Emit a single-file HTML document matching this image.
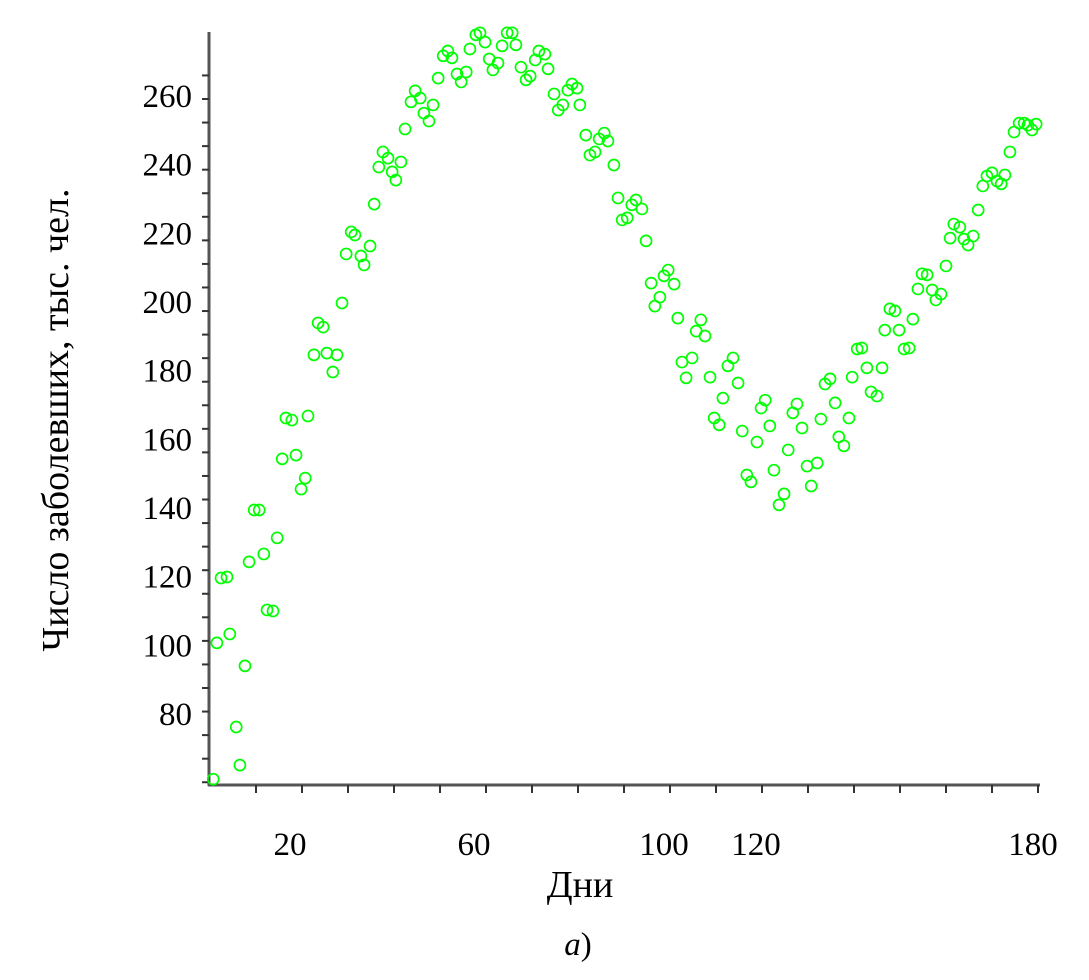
<!DOCTYPE html>
<html><head><meta charset="utf-8"><style>
body{margin:0;background:#fff;width:1089px;height:975px;overflow:hidden}
svg text{font-family:"Liberation Serif",serif;fill:#000}
</style></head><body>
<svg id="chart" width="1089" height="975" xmlns="http://www.w3.org/2000/svg">
<g id="axes"></g>
<g id="points"></g>
<text x="580" y="897" font-size="38" text-anchor="middle">Дни</text>
<text transform="translate(68,420) rotate(-90)" font-size="38" text-anchor="middle">Число заболевших, тыс. чел.</text>
<text x="578" y="955" font-size="33" text-anchor="middle"><tspan font-style="italic">а</tspan>)</text>
</svg>
<script>
const days=[0.7,1.5,2.4,3.7,4.3,5.7,6.5,7.6,8.5,9.6,10.7,11.7,12.4,13.7,14.6,15.7,16.5,17.8,18.7,19.8,20.7,21.3,22.6,23.5,24.6,25.4,26.7,27.6,28.7,29.6,30.7,31.5,32.8,33.5,34.8,35.7,36.7,37.6,38.7,39.6,40.4,41.5,42.4,43.7,44.6,45.7,46.5,47.6,48.5,49.6,50.7,51.7,52.6,53.7,54.6,55.7,56.5,57.8,58.7,59.8,60.7,61.5,62.6,63.5,64.6,65.7,66.5,67.6,68.7,69.6,70.7,71.5,72.8,73.5,74.8,75.7,76.7,77.8,78.7,79.8,80.4,81.7,82.6,83.7,84.6,85.7,86.5,87.8,88.7,89.6,90.7,91.7,92.6,93.9,94.8,95.9,96.7,97.8,98.7,99.6,100.9,101.7,102.6,103.5,104.8,105.7,106.7,107.6,108.7,109.6,110.7,111.5,112.6,113.7,114.8,115.7,116.7,117.6,118.9,119.8,120.7,121.7,122.6,123.7,124.8,125.7,126.7,127.6,128.7,129.8,130.7,132,132.8,133.7,134.8,135.9,136.7,137.8,138.9,139.6,140.7,141.7,142.8,143.7,145,146.1,146.7,147.8,148.9,149.8,150.9,152,152.8,153.9,154.8,155.9,157,157.8,158.9,160,160.9,161.7,163,163.9,164.8,165.9,167,168,168.9,170,171.1,172,172.8,173.9,174.8,175.9,177,177.8,178.7,179.6];
const cases=[61,100.7,119.6,119.9,103.3,76.2,65.1,94,124.3,139.4,139.4,126.6,110.3,110,131.3,154.3,166.2,165.6,155.4,145.5,148.7,166.8,184.6,193.9,192.7,185.1,179.6,184.6,199.7,214,220.4,219.5,213.4,210.8,216.3,228.5,239.3,243.7,241.9,237.9,235.5,240.8,250.4,258.3,261.5,259.4,255,252.7,257.4,265.2,271.7,273.1,271.1,266.4,264.1,267,273.7,277.8,278.4,275.7,270.8,267.6,269.6,274.6,278.4,278.4,274.9,268.4,264.7,265.8,270.5,273.1,272.2,267.9,260.6,255.9,257.4,261.7,263.5,262.3,257.4,248.6,242.8,243.7,247.5,249.2,246.9,239.9,230.3,223.9,224.5,228.3,229.7,227.1,217.8,205.5,198.8,201.4,207.6,209.3,205.2,195.3,182.5,177.9,183.7,191.5,194.8,190.1,178.1,166.2,164.2,172,181.4,183.7,176.4,162.4,149.6,147.6,159.2,169.1,171.4,163.9,151,140.9,144.1,156.9,167.7,170.3,163.3,152.2,146.4,153.1,165.9,176.1,177.6,170.6,160.7,158.1,166.2,178.1,186.3,186.6,180.8,173.8,172.6,180.8,191.8,198,197.4,191.8,186.3,186.6,195,203.8,208.2,207.9,203.5,200.6,202.3,210.5,218.6,222.7,221.8,218.3,216.6,219.2,226.8,233.8,236.7,237.6,235.2,234.4,237,243.7,249.5,252.1,252.1,251.5,250.1,251.8];
const yTicks=[80,100,120,140,160,180,200,220,240,260];
const xTicks=[20,60,100,120,180];
const NS="http://www.w3.org/2000/svg";
const X=d=>210+d*4.6, Y=v=>96+(260-v)*3.433;
const ax=document.getElementById('axes'), pts=document.getElementById('points');
function mk(tag,attrs,parent){const e=document.createElementNS(NS,tag);for(const k in attrs)e.setAttribute(k,attrs[k]);parent.appendChild(e);return e;}
let l=mk('line',{x1:209,y1:32,x2:209,y2:786,stroke:'#555','stroke-width':3},ax);


l=mk('line',{x1:208,y1:785,x2:1040,y2:785,stroke:'#555','stroke-width':3},ax);


for(let y=99-23.56;y<785;y+=23.56){if(y<34)continue;const t=mk('line',{x1:202,y1:y,x2:209,y2:y,stroke:'#333','stroke-width':2},ax);

}
for(let d=10;d<=180;d+=10){const t=mk('line',{x1:X(d),y1:785,x2:X(d),y2:793,stroke:'#333','stroke-width':2},ax);

}
yTicks.forEach(v=>{const t=mk('text',{x:192,y:Y(v)+11,'font-size':33,'text-anchor':'end'},ax);t.textContent=v;

});
xTicks.forEach(v=>{const t=mk('text',{x:X(v)-(v<100?12:v<180?6:5),y:855,'font-size':33,'text-anchor':'middle'},ax);t.textContent=v;

});
days.forEach((d,i)=>{const c=mk('circle',{cx:X(d),cy:Y(cases[i]),r:5.5,fill:'none',stroke:'#00ff00','stroke-width':1.7},pts);

});
</script>
</body></html>
